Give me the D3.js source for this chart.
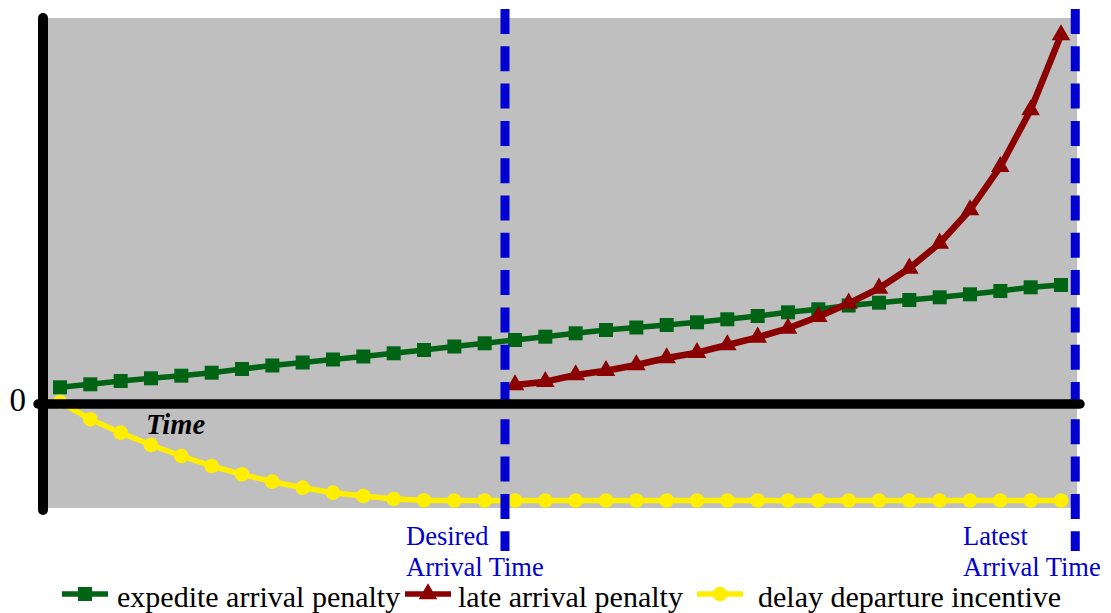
<!DOCTYPE html>
<html>
<head>
<meta charset="utf-8">
<script src="https://cdn.jsdelivr.net/npm/d3@7"></script>
<style>
  html, body { margin: 0; padding: 0; background: #ffffff; }
  svg { display: block; }
  text { font-family: "Liberation Serif", "Times New Roman", serif; }
</style>
</head>
<body>
<svg id="chart" width="1111" height="613"></svg>
<script>
// ---- data (time step index 0..33) ----
const steps = d3.range(0, 34);
const expediteValues = [16.7, 19.7, 23, 25.7, 28.3, 31.3, 35, 38.5, 41.5, 44.5, 47.5, 50.7, 54, 57.5, 60.7, 64, 67.3, 70.7, 74, 76.5, 79, 81.7, 84.7, 88, 91.7, 94.7, 98.5, 101.3, 104, 106.7, 109.7, 113, 116.7, 119];
const lateSteps = d3.range(15, 34);
const lateValues = [19, 22.3, 29, 33.3, 39, 46, 51.3, 59, 66.7, 75.7, 87.3, 100.7, 115.7, 135.7, 160.7, 194, 237.3, 294, 369];
const delayValues = [2, -15.3, -28.7, -41, -52, -62, -70.3, -77.7, -83.7, -88.7, -92, -95, -96.3, -96.5, -96.5, -96.5, -96.5, -96.5, -96.5, -96.5, -96.5, -96.5, -96.5, -96.5, -96.5, -96.5, -96.5, -96.5, -96.5, -96.5, -96.5, -96.5, -96.5, -96.5];
const desiredArrival = 14.67;
const latestArrival = 33.47;
const yTickValues = [0];
const seriesNames = ["expedite arrival penalty", "late arrival penalty", "delay departure incentive"];
const seriesColors = ["#006414", "#8b0000", "#ffee00"];
const markerLabels = [["Desired", "Arrival Time"], ["Latest", "Arrival Time"]];

const svg = d3.select("#chart");
const x = d3.scaleLinear().domain([0, 33]).range([60, 1061]);
const y = d3.scaleLinear().domain([-104, 386]).range([508, 18]);

// plot background
svg.append("rect")
  .attr("x", x(-0.43)).attr("y", y(386))
  .attr("width", x(33.53) - x(-0.43)).attr("height", y(-104) - y(386))
  .attr("fill", "#bfbfbf");

// series
function drawSeries(xs, vals, color, width, symbolType, size) {
  const pts = xs.map((s, i) => [x(s), y(vals[i])]);
  svg.append("path")
    .attr("d", d3.line()(pts))
    .attr("fill", "none").attr("stroke", color)
    .attr("stroke-width", width).attr("stroke-linejoin", "round");
  svg.append("g").selectAll("path").data(pts).join("path")
    .attr("transform", d => `translate(${d[0]},${d[1]})`)
    .attr("d", d3.symbol().type(symbolType).size(size))
    .attr("fill", color);
}
drawSeries(steps, expediteValues, seriesColors[0], 5.5, d3.symbolSquare, 196);
drawSeries(lateSteps, lateValues, seriesColors[1], 6.5, d3.symbolTriangle, 150);
drawSeries(steps, delayValues, seriesColors[2], 5.5, d3.symbolCircle, 170);

// vertical dashed marker lines
[desiredArrival, latestArrival].forEach(v => {
  svg.append("line")
    .attr("x1", x(v)).attr("x2", x(v))
    .attr("y1", 9).attr("y2", 551)
    .attr("stroke", "#0000d0").attr("stroke-width", 9)
    .attr("stroke-dasharray", "25,12.3");
});

// axes lines
svg.append("line")
  .attr("x1", 43).attr("x2", 43)
  .attr("y1", y(386)).attr("y2", 510)
  .attr("stroke", "#000").attr("stroke-width", 10).attr("stroke-linecap", "round");
svg.append("line")
  .attr("x1", 38).attr("x2", 1080)
  .attr("y1", y(0)).attr("y2", y(0))
  .attr("stroke", "#000").attr("stroke-width", 9.5).attr("stroke-linecap", "round");

// y tick label "0"
const yAxis = svg.append("g")
  .attr("transform", "translate(34,0)")
  .call(d3.axisLeft(y).tickValues(yTickValues).tickSize(0).tickPadding(8).tickFormat(d3.format("d")));
yAxis.select(".domain").remove();
yAxis.selectAll("text")
  .attr("font-family", "Liberation Serif, serif")
  .attr("font-size", 33).attr("fill", "#000").attr("dy", "0.2em");

// "Time" label
svg.append("text")
  .attr("x", 146).attr("y", 434)
  .attr("font-size", 28.5).attr("font-weight", "bold").attr("font-style", "italic")
  .attr("fill", "#000").text("Time");

// marker labels
[[desiredArrival, 406], [latestArrival, 963]].forEach((m, i) => {
  const t = svg.append("text").attr("font-size", 26.5).attr("fill", "#0000d0");
  t.append("tspan").attr("x", m[1]).attr("y", 545).text(markerLabels[i][0]);
  t.append("tspan").attr("x", m[1]).attr("y", 576).text(markerLabels[i][1]);
});

// legend
const legendX = [62, 405, 697];
const legendTextX = [117, 458, 758];
const legendSymbols = [d3.symbolSquare, d3.symbolTriangle, d3.symbolCircle];
const legendSizes = [196, 150, 170];
const legendY = 594;
seriesNames.forEach((name, i) => {
  svg.append("line")
    .attr("x1", legendX[i]).attr("x2", legendX[i] + 46)
    .attr("y1", legendY).attr("y2", legendY)
    .attr("stroke", seriesColors[i]).attr("stroke-width", 5.5);
  svg.append("path")
    .attr("transform", `translate(${legendX[i] + 23},${legendY})`)
    .attr("d", d3.symbol().type(legendSymbols[i]).size(legendSizes[i]))
    .attr("fill", seriesColors[i]);
  svg.append("text")
    .attr("x", legendTextX[i]).attr("y", 607)
    .attr("font-size", 30).attr("fill", "#000").text(name);
});
</script>
</body>
</html>
